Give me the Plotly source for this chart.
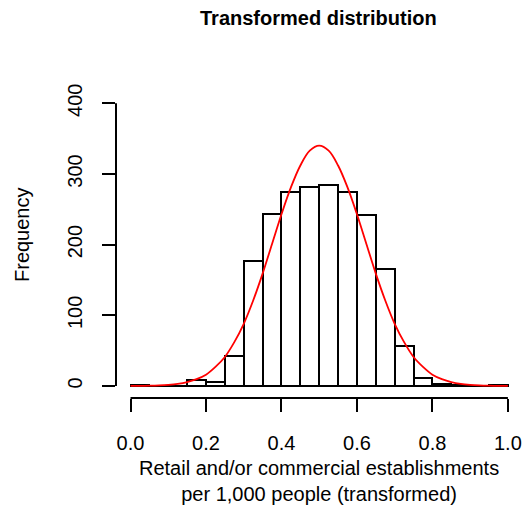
import plotly.graph_objects as go

# Histogram bins (width 0.05) and counts
bin_left = [0.00, 0.05, 0.10, 0.15, 0.20, 0.25, 0.30, 0.35, 0.40, 0.45,
            0.50, 0.55, 0.60, 0.65, 0.70, 0.75, 0.80, 0.85, 0.90, 0.95]
counts = [2, 0, 0, 9, 5, 42, 177, 244, 274, 281,
          285, 275, 242, 166, 57, 11, 3, 1, 0, 2]
bin_width = 0.05

# Red curve
curve_x = [0.000, 0.025, 0.050, 0.075, 0.100, 0.125, 0.150, 0.175, 0.200, 0.225,
           0.250, 0.275, 0.300, 0.325, 0.350, 0.375, 0.400, 0.425, 0.450, 0.475,
           0.500, 0.525, 0.550, 0.575, 0.600, 0.625, 0.650, 0.675, 0.700, 0.725,
           0.750, 0.775, 0.800, 0.825, 0.850, 0.875, 0.900, 0.925, 0.950, 0.975, 1.000]
curve_y = [0.1, 0.2, 0.4, 0.8, 1.6, 3.0, 5.5, 9.7, 16, 27,
           41, 62, 88, 121, 159, 201, 243, 281, 312, 333,
           340, 333, 312, 281, 243, 201, 159, 121, 88, 62,
           41, 27, 16, 9.7, 5.5, 3.0, 1.6, 0.8, 0.4, 0.2, 0.1]

x_ticks = [0.0, 0.2, 0.4, 0.6, 0.8, 1.0]
x_ticktext = ["0.0", "0.2", "0.4", "0.6", "0.8", "1.0"]
y_ticks = [0, 100, 200, 300, 400]

title = "<b>Transformed distribution</b>"
x_title = "Retail and/or commercial establishments<br>per 1,000 people (transformed)"
y_title = "Frequency"

FONT = "Liberation Sans, Arial, Helvetica, sans-serif"
FS = 20

# plot area in pixels
L, R, T, B = 116, 5, 92, 115
W, H = 528, 513
PW, PH = W - L - R, H - T - B


def px_to_paper_x(px):
    return (px - L) / PW


def px_to_paper_y(py):
    return (H - B - py) / PH


centers = [b + bin_width / 2 for b in bin_left]

fig = go.Figure()
fig.add_trace(go.Bar(
    x=centers, y=counts, width=bin_width,
    marker=dict(color="white", line=dict(color="black", width=2)),
    hoverinfo="skip", showlegend=False,
))
fig.add_trace(go.Scatter(
    x=curve_x, y=curve_y, mode="lines", line=dict(color="red", width=1.8, shape="spline"),
    showlegend=False, hoverinfo="skip",
))

fig.update_layout(
    width=W, height=H,
    margin=dict(l=L, r=R, t=T, b=B),
    paper_bgcolor="white", plot_bgcolor="white",
    font=dict(family=FONT, size=FS, color="black"),
    bargap=0,
    xaxis=dict(
        range=[-0.0385, 1.04], tickmode="array", tickvals=x_ticks, ticktext=x_ticktext,
        showgrid=False, zeroline=False, showline=False, automargin=False,
        ticks="outside", ticklen=13, tickwidth=2, tickcolor="black",
        ticklabelstandoff=14, tickfont=dict(size=FS),
    ),
    yaxis=dict(
        range=[-17, 416], tickmode="array", tickvals=y_ticks,
        showgrid=False, zeroline=False, showline=False, automargin=False,
        ticks="outside", ticklen=13, tickwidth=2, tickcolor="black",
        tickangle=-90, ticklabelstandoff=12, tickfont=dict(size=FS),
    ),
    shapes=[
        dict(type="line", xref="x", yref="paper", x0=0, x1=1, y0=0, y1=0,
             line=dict(color="black", width=2)),
        dict(type="line", xref="paper", yref="y", x0=0, x1=0, y0=0, y1=400,
             line=dict(color="black", width=2)),
    ],
    annotations=[
        dict(text=title, xref="paper", yref="paper", showarrow=False,
             x=px_to_paper_x(318.5), y=px_to_paper_y(18), xanchor="center", yanchor="middle",
             font=dict(size=FS)),
        dict(text=x_title, xref="paper", yref="paper", showarrow=False,
             x=px_to_paper_x(318.5), y=px_to_paper_y(481), xanchor="center", yanchor="middle",
             font=dict(size=FS)),
        dict(text=y_title, xref="paper", yref="paper", showarrow=False, textangle=-90,
             x=px_to_paper_x(22), y=px_to_paper_y(235), xanchor="center", yanchor="middle",
             font=dict(size=FS)),
    ],
)

fig.write_html(
    "out.html",
    config={"displayModeBar": False},
    post_script="document.body.style.margin='0';document.body.style.padding='0';",
)
